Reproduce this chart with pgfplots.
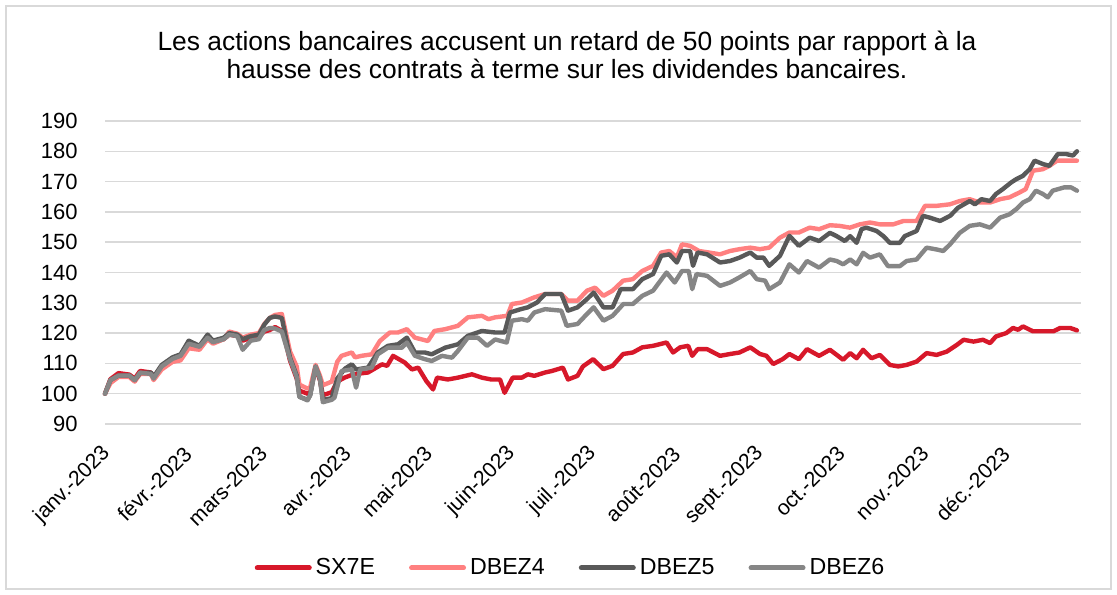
\documentclass[border=0pt]{standalone}
\usepackage{fontspec}
\setmainfont{Liberation Sans}
\usepackage{pgfplots}
\usepackage{pgfplotstable}
\pgfplotsset{compat=1.18}

\definecolor{sxred}{HTML}{D7182A}
\definecolor{dbpink}{HTML}{FF8080}
\definecolor{dbdark}{HTML}{595959}
\definecolor{dbgrey}{HTML}{868686}
\definecolor{gridgrey}{HTML}{D9D9D9}

% x = day of 2023 (1 = 2 Jan), values rebased to 100
\pgfplotstableread{
d v
1 100
3 104.8
6 106.8
10 106.3
12 105
14 107.5
18 107
19 105.5
22 109
26 111.5
29 112.5
32 116.5
36 115.5
39 118.5
41 117
45 118
47 119.5
50 119
52 117.5
55 118.5
58 119
60 120.5
62 121
64 122
67 120.5
69.5 111
72 105
73 101
76 100
77 100.5
79 108.5
80.6 104.5
81.7 99.5
85 100.5
87 104
89.7 105.3
93 106.4
98.4 107
103.6 109.7
105.5 109.2
107.7 112.5
112 110.3
114.7 108
117 108.6
120 104.2
122.5 101.4
124 105.3
128 104.7
131.7 105.3
136.9 106.4
140.6 105.3
144 104.7
147.3 104.7
149 100.3
152 105.3
155.4 105.3
157.6 106.4
160 105.9
164 107
166.5 107.5
170.6 108.6
172.5 104.7
176 105.9
178 109
181.8 111.4
185.6 108.1
189 109.2
192.9 113.1
196.5 113.6
200 115.3
204 115.8
209 116.9
211.4 113.6
214 115.3
217 115.8
218.5 112.5
220.5 114.7
224 114.7
228.8 112.5
232.5 113.1
236 113.6
240 115.3
243.6 113.1
246 112.5
248.5 109.8
252 111.4
254.5 113.1
258 111.4
261 114.7
265.5 112.5
269.5 114.5
274.4 111.2
277 113.4
279.4 111.7
281.8 114.5
284.9 111.7
288 112.8
291.7 109.5
294.8 109
297.9 109.5
301.6 110.6
305.3 113.4
309 112.8
312.8 113.9
316.5 116.1
319 117.8
322.7 117.2
326.2 117.8
328.8 116.7
331 118.9
334.8 120
337.3 121.7
339.2 121.1
341 122.2
344.7 120.6
348.4 120.6
352.3 120.6
354.8 121.7
358.5 121.7
361 120.9
}\sxseven

\pgfplotstableread{
d v
1 100
3 103.5
6 105.5
10 105.5
12 104
14 106.5
18 106.5
19 104.5
22 108
26 110.5
29 111
32 115
36 114.5
39 118
41 116.5
45 118
47 120.5
50 119.8
52 118.5
55 119.5
58 120
60 123
62 125
64 126
66.5 126.3
69.5 114
72 109
73 103
76 101.7
77 102
79 109.5
80.6 106
81.7 102.8
85 104
87 110.5
88.6 112.5
92.4 113.6
93.6 112
96 112.5
99.8 113
102.8 117.4
106.5 120.2
109.5 120.2
112.8 121.3
115.8 118.5
120.6 117.4
123 120.7
127 121.3
131.7 122.4
135.4 125.2
140.6 125.7
143 124.6
145.5 125.2
150 125.7
151.7 129.6
155.4 130.1
160 131.8
164 132.9
170 132.9
172.5 130.7
176 130.7
179.5 134
182.5 135
185.6 132.3
189 134
192.9 137.3
196.5 137.8
200 140.5
204 142.2
207 146.6
210 147.1
212.8 145
214.7 149.3
217.7 148.8
221 147.1
224.6 146.6
228.8 146
232.5 147.1
236 147.7
240 148.2
243.6 147.7
247 148.2
251 151.5
254.5 153.2
258 153.2
262 154.8
265.5 154.3
269.5 155.6
273 155.4
276.9 154.8
280.6 155.9
284.3 156.5
288 155.9
293 155.9
296.7 157
301.6 157
304.7 162
309 162
313.9 162.5
317.6 163.6
321.3 164.2
325 163.1
328.8 163.1
332.5 164.2
336 164.8
339.7 166.4
342 167.5
344.7 173.6
348.4 174.1
350.8 175.2
353.6 176.9
357.3 176.9
361 176.9
}\dbezfour

\pgfplotstableread{
d v
1 100
3 104.5
6 106
10 106
12 104.5
14 106.8
18 107
19 105.5
22 109.5
26 112
29 113
32 117.5
36 115.8
39 119.5
41 117.5
45 118.5
47 120
50 119.5
52 118
55 119
58 119.5
60 122.8
62 125
64 125.5
66.5 125
69.5 112
72 106
73 99
76 98
77 99.5
79 109
80.6 105
81.7 98
85 98.5
87 105
89.9 108.3
92.4 109.7
94 108
98.4 108.6
102 113.6
105.8 115.8
109.5 116.3
112.8 118.5
115.8 113.6
119.5 113.6
122 113
127 115.2
131.7 116.3
135.4 119.1
140.6 120.7
145.5 120.2
149 120.2
151 126.8
155 127.9
157.6 128.5
161 130.1
164 132.9
170 132.9
172.5 127.4
176 128.5
179.5 131.2
182 133.4
185.6 128.5
189 128.5
192 134.5
196.5 134.5
200 137.8
204 139.5
207 145.5
210 146
212.8 143.3
214.7 147.1
217.7 147.1
218.8 142.2
220.5 146.6
224 146
228.8 143.3
232.5 143.8
236 144.9
240 146.6
242.4 144.9
244.9 144.9
247 142.2
251 145.5
254.5 152.1
258 148.8
262 151.5
265.5 150.4
269.5 153.1
272 152
275 150.4
277 152
279.4 149.8
281.2 154.3
283 154.8
286.8 153.7
289.3 152
291.7 149.8
295.4 149.8
297.2 152
301.6 153.7
304 158.7
306.5 158.1
310.3 157
314 158.7
317 161.4
321.3 163.6
323.2 162.5
325.6 164.2
328.8 163.6
331 165.9
333.5 167.5
336.6 169.7
338.5 170.8
341 171.9
343.5 174.1
345.3 176.9
348.4 175.8
350.8 175.2
353.9 179.1
357 179.1
359.5 178.6
361 180
}\dbezfive

\pgfplotstableread{
d v
1 100
3 104.5
6 106
10 106
12 104.5
14 107
18 106.5
19 105
22 109
26 111.5
29 112.5
32 116.5
36 115.5
39 118.5
41 117
45 118
47 119.5
50 119
52 114.5
55 117.5
58 118
60 121
62 121.7
64 121.5
66.5 120.5
69.5 111.5
72 105.5
73 99
76 97.8
77 99.5
79 109
80.6 105
81.7 97.2
85 98
86 98.7
88.6 107.5
92.4 108
94 102
95.5 108
99.8 108.6
102 113
105.8 115.2
111 115.2
112.8 116.9
115.8 112.5
119.5 111.4
122 110.8
125.8 112.5
129.5 111.9
131.7 114.1
135.4 118.5
139.1 118.5
142.5 115.8
145.5 117.9
149.8 116.9
151.7 124.1
155.4 124.6
157.6 124.1
160 126.8
164 127.9
170 127.4
172 122.4
176 123
179.5 126.3
182 128.5
185.6 124.1
189 125.7
193 129.6
196.5 129.6
200 132.3
204 134
209 140
212 136.7
214.7 140.5
217.2 140.5
218.5 134.5
220.1 139.5
224 138.9
228.8 135.6
232.5 136.7
236 138.4
240 140.5
242.4 137.8
245.5 137.3
247 134.5
251 136.7
254.5 142.7
258 140
261 143.8
265.5 141.6
269.5 144.3
272 143.8
274.4 142.7
277 144.3
279.4 142.7
281.8 146.5
284.3 144.9
288 146
291 142.1
295.4 142.1
297.9 143.8
301.6 144.3
305.3 148.2
309 147.6
311.5 147.1
314 149.3
317.6 153.1
321.3 155.4
325 155.9
328.8 154.8
332.5 158.1
336 159.2
338.5 160.9
341 163.1
343.5 164.2
345.8 167
348.4 165.9
350.2 164.8
352 167
356.3 168.1
358.8 168.1
361 167
}\dbezsix

\begin{document}
\begin{tikzpicture}
\useasboundingbox (0,0) rectangle (558.5bp,-297.5bp);
\draw[gridgrey, line width=0.75bp] (3bp,-3bp) rectangle (555.5bp,-294.5bp);
\node[align=center, inner sep=0pt, anchor=north,
      font=\fontsize{13.2bp}{13.8bp}\selectfont] at (283.5bp,-15.5bp)
  {Les actions bancaires accusent un retard de 50 points par rapport à la\\
   hausse des contrats à terme sur les dividendes bancaires.};
\begin{axis}[
    at={(52.5bp,-212bp)}, anchor=south west,
    scale only axis, width=488bp, height=151.5bp,
    xmin=1, xmax=362.5, ymin=90, ymax=190,
    ytick={90,100,...,190},
    xtick={1,31,59,90,120,151,181,212,243,273,304,334},
    xticklabels={janv.-2023,févr.-2023,mars-2023,avr.-2023,mai-2023,juin-2023,
                 juil.-2023,août-2023,sept.-2023,oct.-2023,nov.-2023,déc.-2023},
    axis line style={draw=none},
    major tick length=0pt,
    ymajorgrids,
    grid style={gridgrey, line width=0.75bp},
    /pgf/number format/assume math mode=true,
    yticklabel style={font=\fontsize{11bp}{13bp}\selectfont,
        anchor=east, inner sep=0pt, xshift=-13.5bp},
    xticklabel style={font=\fontsize{10.6bp}{12bp}\selectfont,
        xshift=1bp, yshift=-13bp, rotate=45, anchor=east, inner sep=0pt},
    clip=false,
    legend columns=4,
    legend style={draw=none, fill=none, at={(0.478,-0.475)}, anchor=center,
        font=\fontsize{11.6bp}{13bp}\selectfont,
        /tikz/every even column/.append style={column sep=15bp},
        inner sep=0pt},
    legend cell align=left,
    legend image code/.code={\draw[#1, line width=2.5bp, line cap=round]
        (0bp,0bp) -- (26bp,0bp);},
    every axis plot/.append style={line width=2.2bp, line join=round, line cap=round, no markers},
]
\addplot[sxred] table[x=d, y=v] {\sxseven};
\addplot[dbpink] table[x=d, y=v] {\dbezfour};
\addplot[dbdark] table[x=d, y=v] {\dbezfive};
\addplot[dbgrey] table[x=d, y=v] {\dbezsix};
\legend{SX7E, DBEZ4, DBEZ5, DBEZ6}
\end{axis}
\end{tikzpicture}
\end{document}
